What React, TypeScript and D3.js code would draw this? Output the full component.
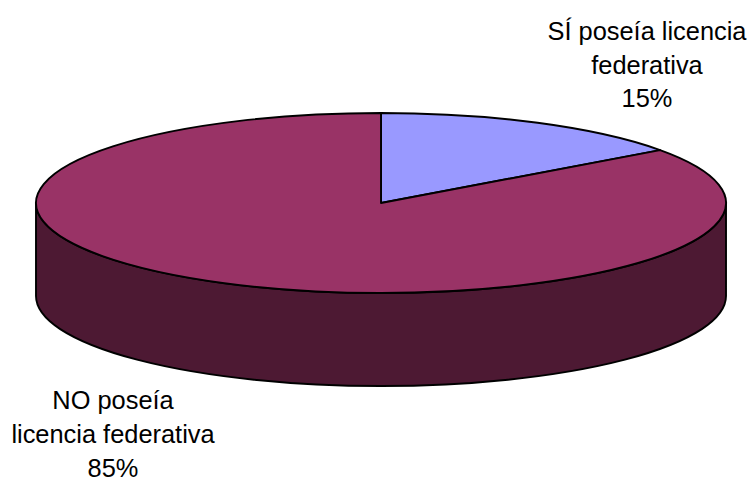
import React from "react";
import * as d3 from "d3";

const categories = ["SÍ poseía licencia federativa", "NO poseía licencia federativa"];
const shares = [15, 85];
const labelLines = [
  ["SÍ poseía licencia", "federativa", "15%"],
  ["NO poseía", "licencia federativa", "85%"],
];
const topColors = ["#9999FF", "#993366"];
const wallColor = "#4D1933";

const WIDTH = 751;
const HEIGHT = 477;
const cx = 381;
const cy = 203;
const rx = 345;
const ry = 90;
const depth = 93;
const labelAnchors = [
  { x: 647, y: 40, step: 33.5 },
  { x: 113, y: 408.5, step: 34 },
];
const strokeWidth = 1.9;

export default function App() {
  const slices = d3
    .pie<number>()
    .sort(null)
    .value((d) => d)(shares);
  const arc = d3
    .arc<d3.PieArcDatum<number>>()
    .innerRadius(0)
    .outerRadius(rx);

  // Front wall of the disc: the lower half of the rim, extruded downwards.
  const rim = `M${cx - rx},${cy} L${cx - rx},${cy + depth} A${rx},${ry} 0 0 0 ${cx + rx},${cy + depth} L${cx + rx},${cy} A${rx},${ry} 0 0 1 ${cx - rx},${cy} Z`;

  return (
    <svg
      width={WIDTH}
      height={HEIGHT}
      style={{ position: "absolute", left: 0, top: 0, background: "#fff" }}
      fontFamily="'Liberation Sans', Arial, sans-serif"
    >
      <path d={rim} fill={wallColor} stroke="#000" strokeWidth={strokeWidth} strokeLinejoin="round" />
      <g transform={`translate(${cx},${cy}) scale(1,${ry / rx})`}>
        {slices.map((s, i) => (
          <path
            key={categories[i]}
            d={arc(s) ?? ""}
            fill={topColors[i]}
            stroke="#000"
            strokeWidth={strokeWidth}
            strokeLinejoin="round"
            vectorEffect="non-scaling-stroke"
          />
        ))}
      </g>
      {labelLines.map((lines, i) => (
        <text key={categories[i]} fontSize={25.4} fill="#000" textAnchor="middle">
          {lines.map((line, j) => (
            <tspan key={line} x={labelAnchors[i].x} y={labelAnchors[i].y + j * labelAnchors[i].step}>
              {line}
            </tspan>
          ))}
        </text>
      ))}
    </svg>
  );
}
